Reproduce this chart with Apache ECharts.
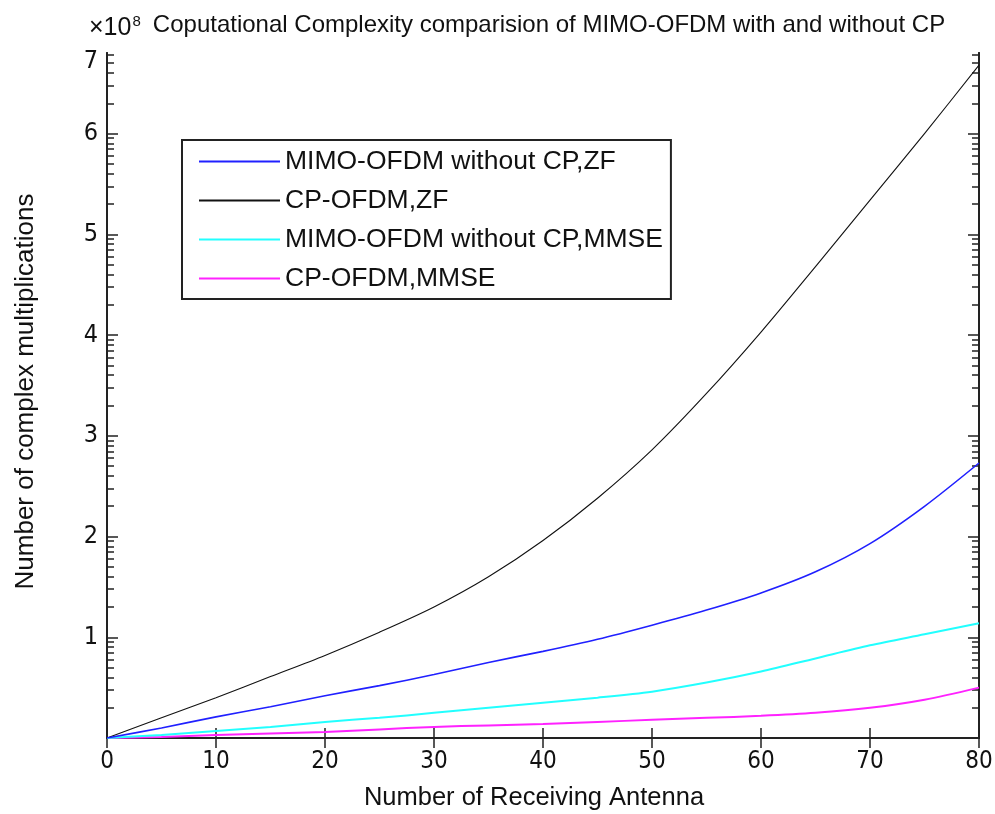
<!DOCTYPE html>
<html>
<head>
<meta charset="utf-8">
<script src="https://cdn.jsdelivr.net/npm/echarts@6/dist/echarts.min.js"></script>
<style>html,body{margin:0;padding:0;background:#fff}#c{width:995px;height:814px}</style>
</head>
<body>
<div id="c"></div>
<script>
// Data (values in units of 10^8 complex multiplications)
var antennas = [0, 5, 10, 15, 20, 25, 30, 35, 40, 45, 50, 55, 60, 65, 70, 75, 80];
var zfNoCP   = [0, 0.10, 0.21, 0.31, 0.42, 0.52, 0.63, 0.75, 0.86, 0.98, 1.12, 1.27, 1.44, 1.65, 1.93, 2.30, 2.73];
var zfCP     = [0, 0.20, 0.40, 0.61, 0.82, 1.05, 1.30, 1.60, 1.96, 2.38, 2.86, 3.42, 4.03, 4.68, 5.34, 6.00, 6.68];
var mmseNoCP = [0, 0.03, 0.07, 0.11, 0.16, 0.20, 0.25, 0.30, 0.35, 0.40, 0.46, 0.55, 0.66, 0.79, 0.92, 1.03, 1.14];
var mmseCP   = [0, 0.01, 0.03, 0.045, 0.06, 0.085, 0.11, 0.125, 0.14, 0.16, 0.18, 0.20, 0.22, 0.25, 0.30, 0.38, 0.50];
var seriesNames = ['MIMO-OFDM without CP,ZF', 'CP-OFDM,ZF', 'MIMO-OFDM without CP,MMSE', 'CP-OFDM,MMSE'];
var yLabelValues = [1, 2, 3, 4, 5, 6, 6.72];
var yTickLabels = ['1', '2', '3', '4', '5', '6', '7'];
var yMajorTicks = [1, 2, 3, 4, 5, 6];
var yMax = 6.8;

// log-style minor tick positions between integer marks (as in the original figure)
var yMinorTicks = [];
for (var k = 0; k < 7; k++) {
  for (var m = 2; m <= 9; m++) {
    var v = k + Math.log10(m);
    if (v < yMax) yMinorTicks.push(v);
  }
}

function pairs(ys) { return antennas.map(function (x, i) { return [x, ys[i]]; }); }

var axisColor = '#222';
var chart = echarts.init(document.getElementById('c'));

function yAx(pos, ticks, len, labels) {
  return {
    type: 'value', position: pos, min: 0, max: yMax,
    axisLine: { show: true, lineStyle: { color: axisColor, width: 2 } },
    axisTick: { show: true, inside: true, length: len, customValues: ticks, lineStyle: { color: axisColor, width: 1.5 } },
    axisLabel: labels ? {
      show: true, customValues: yLabelValues, margin: 9,
      fontFamily: 'DejaVu Sans Condensed, DejaVu Sans', fontSize: 25, color: '#111',
      formatter: function (v) { var i = yLabelValues.indexOf(v); return i >= 0 ? yTickLabels[i] : ''; }
    } : { show: false },
    splitLine: { show: false }
  };
}

var yAxes = [
  yAx('left', yMajorTicks, 11, true),
  yAx('left', yMinorTicks, 7, false),
  yAx('right', yMajorTicks, 11, false),
  yAx('right', yMinorTicks, 7, false)
];
yAxes[0].name = 'Number of complex multiplications';
yAxes[0].nameLocation = 'middle';
yAxes[0].nameGap = 68;
yAxes[0].nameTextStyle = { fontFamily: 'Liberation Sans, Arial', fontSize: 26, color: '#111', padding: [0, 0, 0, 8] };

var colors = ['#2020ff', '#111111', '#22ffff', '#ff22ff'];
var widths = [1.6, 1.1, 2, 2];
var dataSets = [zfNoCP, zfCP, mmseNoCP, mmseCP];

chart.setOption({
  animation: false,
  backgroundColor: '#fff',
  title: [{
    text: 'Coputational Complexity comparision of MIMO-OFDM with and without CP',
    left: 544, textAlign: 'center', top: 8,
    textStyle: { fontFamily: 'Liberation Sans, Arial', fontSize: 24, fontWeight: 'normal', color: '#111' }
  }, {
    text: '{a|×10}{b|8}',
    left: 84, top: 9,
    textStyle: { fontWeight: 'normal', rich: {
      a: { fontFamily: 'Liberation Sans, Arial', fontSize: 25, fontWeight: 'normal', color: '#111', verticalAlign: 'bottom' },
      b: { fontFamily: 'Liberation Sans, Arial', fontSize: 15, fontWeight: 'normal', color: '#111', verticalAlign: 'top', padding: [0, 0, 12, 1] }
    } }
  }],
  legend: {
    orient: 'vertical', left: 182, top: 140,
    data: seriesNames,
    icon: 'rect', itemWidth: 81, itemHeight: 2, itemGap: 12,
    padding: [8, 8, 7, 17],
    borderColor: '#222', borderWidth: 2, backgroundColor: '#fff',
    textStyle: { fontFamily: 'Liberation Sans, Arial', fontSize: 26.5, color: '#111' }
  },
  grid: { left: 107, right: 16, top: 53, bottom: 76, containLabel: false, outerBoundsMode: 'none' },
  xAxis: [{
    type: 'value', position: 'bottom', min: 0, max: 80, interval: 10,
    name: 'Number of Receiving Antenna', nameLocation: 'middle', nameGap: 47,
    nameTextStyle: { fontFamily: 'Liberation Sans, Arial', fontSize: 25.5, color: '#111', padding: [0, 18, 0, 0] },
    axisLine: { show: true, lineStyle: { color: axisColor, width: 2 } },
    axisTick: { show: true, inside: true, length: 10, lineStyle: { color: axisColor, width: 1.5 } },
    axisLabel: { show: true, margin: 12, fontFamily: 'DejaVu Sans Condensed, DejaVu Sans', fontSize: 24, color: '#111',
      showMinLabel: true, showMaxLabel: true },
    splitLine: { show: false }
  }, {
    type: 'value', position: 'top', min: 0, max: 80, interval: 10,
    axisLine: { show: true, lineStyle: { color: axisColor, width: 2 } },
    axisTick: { show: true, inside: true, length: 10, lineStyle: { color: axisColor, width: 1.5 } },
    axisLabel: { show: false },
    splitLine: { show: false }
  }],
  yAxis: yAxes,
  series: seriesNames.map(function (n, i) {
    return {
      name: n, type: 'line', xAxisIndex: 0, yAxisIndex: 0,
      data: pairs(dataSets[i]), smooth: 0.3, showSymbol: false, symbol: 'none',
      lineStyle: { color: colors[i], width: widths[i] }, itemStyle: { color: colors[i] },
      z: 4 - i
    };
  })
});
</script>
</body>
</html>
